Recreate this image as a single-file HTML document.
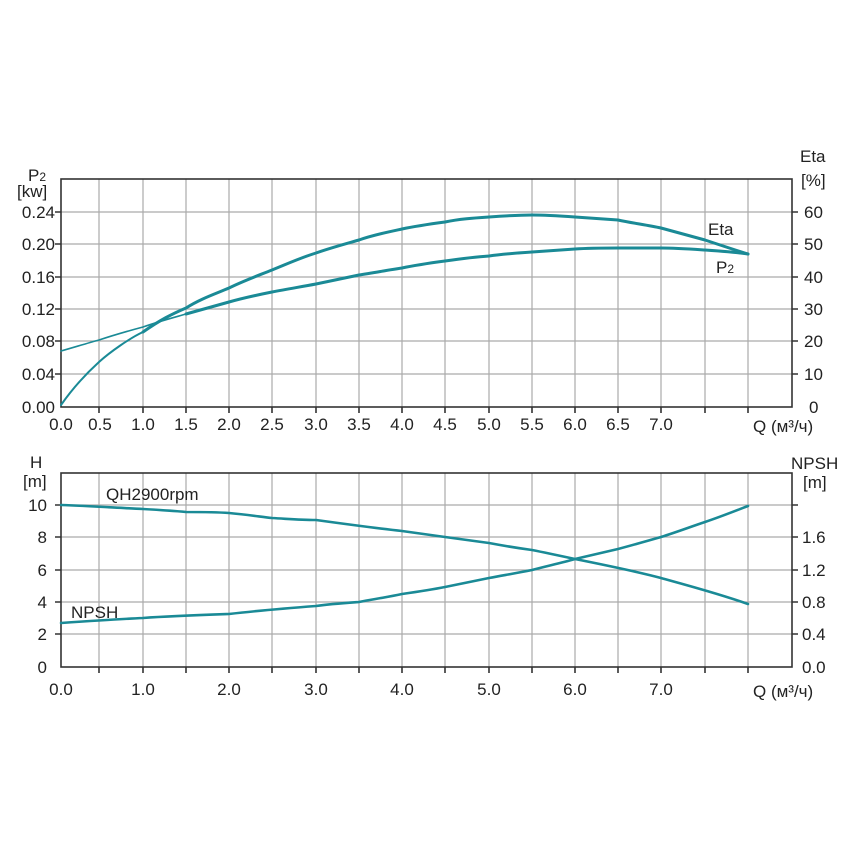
<!DOCTYPE html>
<html><head><meta charset="utf-8"><style>
html,body{margin:0;padding:0;background:#fff;}
svg{display:block;font-family:"Liberation Sans",sans-serif;}
</style></head><body>
<svg width="850" height="850" viewBox="0 0 850 850" xmlns="http://www.w3.org/2000/svg">
<g stroke="#aaa" stroke-width="1.2" fill="none">
<path d="M99 179V407M143 179V407M186 179V407M229 179V407M272 179V407M316 179V407M359 179V407M402 179V407M445 179V407M489 179V407M532 179V407M575 179V407M618 179V407M661 179V407M705 179V407M748 179V407"/>
<path d="M61 212H792M61 244H792M61 277H792M61 309H792M61 341H792M61 374H792"/>
<path d="M99 473V667M143 473V667M186 473V667M229 473V667M272 473V667M316 473V667M359 473V667M402 473V667M445 473V667M489 473V667M532 473V667M575 473V667M618 473V667M661 473V667M705 473V667M748 473V667"/>
<path d="M61 505H792M61 537H792M61 570H792M61 602H792M61 634H792"/>
</g>
<g stroke="#333" stroke-width="1.6" fill="none">
<rect x="61" y="179" width="731" height="228"/>
<rect x="61" y="473" width="731" height="194"/>
<path d="M99 407v6M143 407v6M186 407v6M229 407v6M272 407v6M316 407v6M359 407v6M402 407v6M445 407v6M489 407v6M532 407v6M575 407v6M618 407v6M661 407v6M705 407v6M748 407v6"/>
<path d="M99 667v6M143 667v6M186 667v6M229 667v6M272 667v6M316 667v6M359 667v6M402 667v6M445 667v6M489 667v6M532 667v6M575 667v6M618 667v6M661 667v6M705 667v6M748 667v6"/>
<path d="M55 212h6M55 244h6M55 277h6M55 309h6M55 341h6M55 374h6M792 212h6M792 244h6M792 277h6M792 309h6M792 341h6M792 374h6"/>
<path d="M55 505h6M55 537h6M55 570h6M55 602h6M55 634h6M792 505h6M792 537h6M792 570h6M792 602h6M792 634h6"/>
</g>
<g fill="none" stroke="#1a8a96" stroke-linecap="round" stroke-linejoin="round">
<path stroke-width="2" d="M61 405 C75 385,88 372,99 362 S130 338,143 332"/>
<path stroke-width="3" d="M143 332 C160 320,172 314,186 308 C200 299,215 294,229 288 C243 281,257 276,272 270 C287 264,300 258,316 253 C330 248,345 244,359 240 C373 235,388 232,402 229 C416 226,430 224,445 222 C459 219,474 218,489 217 C503 216,517 215,532 215 C546 215,561 216,575 217 C590 218,604 219,618 220 C632 223,647 225,661 228 C676 232,690 236,705 240 C720 245,735 250,748 254"/>
<path stroke-width="1.6" d="M61 351 C75 347,88 343,99 340 C114 335,128 331,143 327 C157 322,172 318,186 314"/>
<path stroke-width="3" d="M186 314 C200 310,215 306,229 302 C243 298,257 295,272 292 C287 289,300 287,316 284 C330 281,345 278,359 275 C373 273,388 270,402 268 C416 265,430 263,445 261 C459 259,474 257,489 256 C503 254,517 253,532 252 C546 251,561 250,575 249 C590 248,604 248,618 248 C632 248,647 248,661 248 C676 248,690 249,705 250 C720 251,735 252,748 254"/>
<path stroke-width="2.6" d="M61 505 C90 506,120 508,143 509 C160 510,175 511,186 512 C200 512,215 512,229 513 C250 515,262 517,272 518 C290 519,300 520,316 520 C345 524,375 528,402 531 C416 533,430 535,445 537 C460 539,475 541,489 543 C505 546,517 548,532 550 C547 553,561 556,575 559 C600 564,635 571,661 578 C690 586,720 594,748 604"/>
<path stroke-width="2.6" d="M61 623 C90 621,120 619,143 618 C170 616,200 615,229 614 C255 611,290 608,316 606 C330 604,345 603,359 602 C375 599,388 597,402 594 C416 592,430 590,445 587 C460 584,475 581,489 578 C505 575,517 573,532 570 C547 566,561 563,575 559 C592 555,605 552,618 549 C633 545,647 541,661 537 C677 532,690 527,705 522 C720 517,735 511,748 506"/>
</g>
<g font-size="17" fill="#222">
<text x="28" y="181">P<tspan font-size="12">2</tspan></text>
<text x="17" y="197">[kw]</text>
<g text-anchor="end">
<text x="55" y="218">0.24</text><text x="55" y="250">0.20</text><text x="55" y="283">0.16</text><text x="55" y="315">0.12</text><text x="55" y="347">0.08</text><text x="55" y="380">0.04</text><text x="55" y="413">0.00</text>
</g>
<text x="800" y="162">Eta</text><text x="801" y="186">[%]</text>
<text x="804" y="218">60</text><text x="804" y="250">50</text><text x="804" y="283">40</text><text x="804" y="315">30</text><text x="804" y="347">20</text><text x="804" y="380">10</text><text x="809" y="413">0</text>
<g text-anchor="middle">
<text x="61" y="430">0.0</text><text x="100" y="430">0.5</text><text x="143" y="430">1.0</text><text x="186" y="430">1.5</text><text x="229" y="430">2.0</text><text x="272" y="430">2.5</text><text x="316" y="430">3.0</text><text x="359" y="430">3.5</text><text x="402" y="430">4.0</text><text x="445" y="430">4.5</text><text x="489" y="430">5.0</text><text x="532" y="430">5.5</text><text x="575" y="430">6.0</text><text x="618" y="430">6.5</text><text x="661" y="430">7.0</text>
</g>
<text x="753" y="432">Q (м³/ч)</text>
<text x="708" y="235">Eta</text>
<text x="716" y="273">P<tspan font-size="12">2</tspan></text>

<text x="30" y="468">H</text><text x="23" y="487">[m]</text>
<g text-anchor="end">
<text x="47" y="511">10</text><text x="47" y="543">8</text><text x="47" y="576">6</text><text x="47" y="608">4</text><text x="47" y="640">2</text><text x="47" y="673">0</text>
</g>
<text x="791" y="469">NPSH</text><text x="803" y="488">[m]</text>
<text x="802" y="543">1.6</text><text x="802" y="576">1.2</text><text x="802" y="608">0.8</text><text x="802" y="640">0.4</text><text x="802" y="673">0.0</text>
<g text-anchor="middle">
<text x="61" y="695">0.0</text><text x="143" y="695">1.0</text><text x="229" y="695">2.0</text><text x="316" y="695">3.0</text><text x="402" y="695">4.0</text><text x="489" y="695">5.0</text><text x="575" y="695">6.0</text><text x="661" y="695">7.0</text>
</g>
<text x="753" y="697">Q (м³/ч)</text>
<text x="106" y="500">QH2900rpm</text>
<text x="71" y="618">NPSH</text>
</g>
</svg>
</body></html>
